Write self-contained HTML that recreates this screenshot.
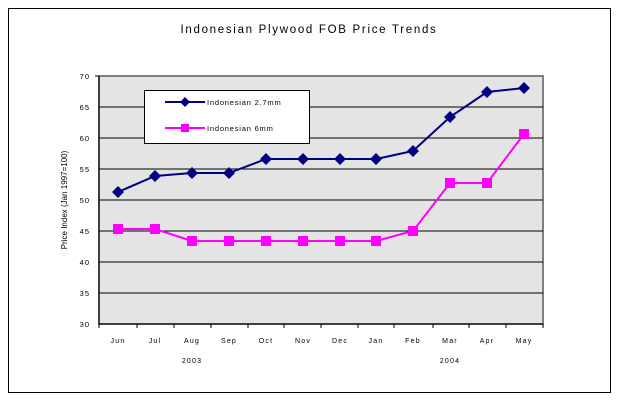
<!DOCTYPE html>
<html><head><style>body{margin:0;background:#fff}svg text{font-family:"Liberation Sans",sans-serif}</style></head><body>
<svg width="617" height="402" xmlns="http://www.w3.org/2000/svg">
<rect x="8.5" y="8.5" width="602" height="384" fill="#fff" stroke="#000"/>
<text x="309" y="33" font-size="11.5" text-anchor="middle" letter-spacing="1.7">Indonesian Plywood FOB Price Trends</text>
<rect x="99" y="76" width="444" height="248" fill="#e4e4e4" stroke="#808080" stroke-width="2"/>
<g stroke="#000" stroke-width="1">
<line x1="99" x2="543" y1="107" y2="107"/><line x1="99" x2="543" y1="138" y2="138"/><line x1="99" x2="543" y1="169" y2="169"/><line x1="99" x2="543" y1="200" y2="200"/><line x1="99" x2="543" y1="231" y2="231"/><line x1="99" x2="543" y1="262" y2="262"/><line x1="99" x2="543" y1="293" y2="293"/>
<line x1="99" x2="99" y1="76" y2="324"/><line x1="95" x2="99" y1="76" y2="76"/><line x1="99" x2="543" y1="324" y2="324"/>
</g>
<g stroke="#000"><path d="M99 324v4M137 324v4M174 324v4M211 324v4M248 324v4M284 324v4M321 324v4M358 324v4M394 324v4M433 324v4M469 324v4M506 324v4M543 324v4"/></g>
<g font-size="7.5" text-anchor="end" letter-spacing="1"><text x="90" y="79">70</text><text x="90" y="110">65</text><text x="90" y="141">60</text><text x="90" y="172">55</text><text x="90" y="203">50</text><text x="90" y="234">45</text><text x="90" y="265">40</text><text x="90" y="296">35</text><text x="90" y="327">30</text></g>
<text transform="translate(67,200) rotate(-90)" font-size="8" text-anchor="middle">Price Index (Jan 1997=100)</text>
<g font-size="7" text-anchor="middle" letter-spacing="1.2"><text x="118" y="343">Jun</text><text x="155" y="343">Jul</text><text x="192" y="343">Aug</text><text x="229" y="343">Sep</text><text x="266" y="343">Oct</text><text x="303" y="343">Nov</text><text x="340" y="343">Dec</text><text x="376" y="343">Jan</text><text x="413" y="343">Feb</text><text x="450" y="343">Mar</text><text x="487" y="343">Apr</text><text x="524" y="343">May</text>
<text x="192" y="363">2003</text><text x="450" y="363">2004</text></g>
<polyline fill="none" stroke="#000080" stroke-width="2" points="118,192 155,176 192,173 229,173 266,159 303,159 340,159 376,159 413,151 450,117 487,92 524,88"/>
<g fill="#000080"><path d="M118 186l6 6-6 6-6-6z M155 170l6 6-6 6-6-6z M192 167l6 6-6 6-6-6z M229 167l6 6-6 6-6-6z M266 153l6 6-6 6-6-6z M303 153l6 6-6 6-6-6z M340 153l6 6-6 6-6-6z M376 153l6 6-6 6-6-6z M413 145l6 6-6 6-6-6z M450 111l6 6-6 6-6-6z M487 86l6 6-6 6-6-6z M524 82l6 6-6 6-6-6z"/></g>
<polyline fill="none" stroke="#ff00ff" stroke-width="2" points="118,229 155,229 192,241 229,241 266,241 303,241 340,241 376,241 413,231 450,183 487,183 524,134"/>
<g fill="#ff00ff"><rect x="113" y="224" width="10" height="10"/><rect x="150" y="224" width="10" height="10"/><rect x="187" y="236" width="10" height="10"/><rect x="224" y="236" width="10" height="10"/><rect x="261" y="236" width="10" height="10"/><rect x="298" y="236" width="10" height="10"/><rect x="335" y="236" width="10" height="10"/><rect x="371" y="236" width="10" height="10"/><rect x="408" y="226" width="10" height="10"/><rect x="445" y="178" width="10" height="10"/><rect x="482" y="178" width="10" height="10"/><rect x="519" y="129" width="10" height="10"/></g>
<rect x="144.5" y="90.5" width="165" height="53" fill="#fff" stroke="#000"/>
<line x1="165" x2="205" y1="102" y2="102" stroke="#000080" stroke-width="2"/><path d="M185 97l5 5-5 5-5-5z" fill="#000080"/>
<line x1="165" x2="205" y1="128" y2="128" stroke="#ff00ff" stroke-width="2"/><rect x="181" y="124" width="8" height="8" fill="#ff00ff"/>
<g font-size="7.5" letter-spacing="0.8"><text x="207" y="105">Indonesian 2.7mm</text><text x="207" y="131">Indonesian 6mm</text></g>
</svg>
</body></html>
